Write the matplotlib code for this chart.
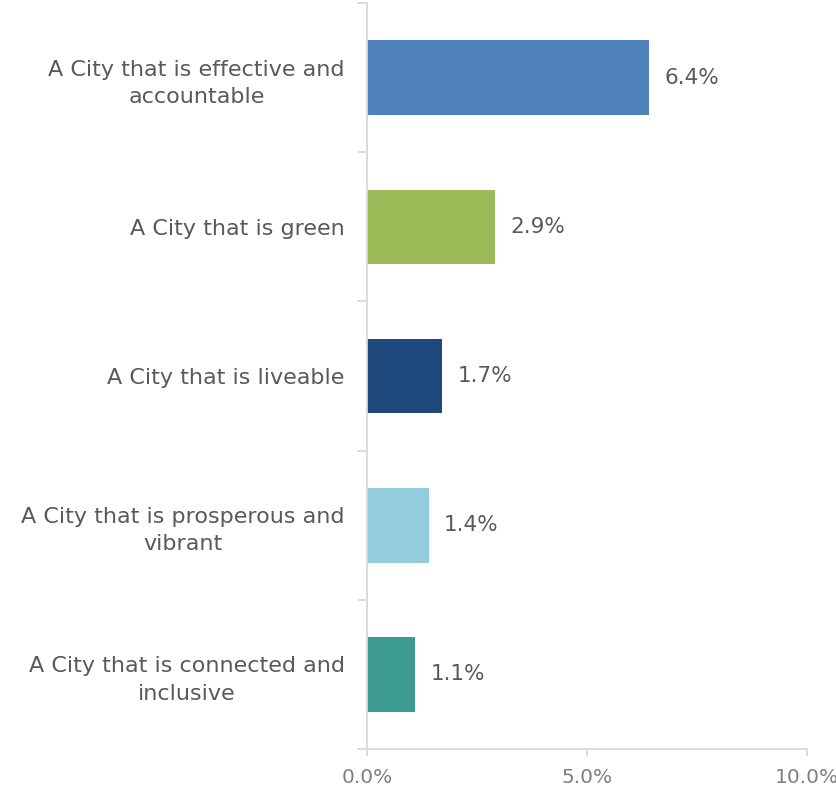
import matplotlib
matplotlib.use('Agg')
import matplotlib.pyplot as plt

categories = [
    'A City that is effective and\naccountable',
    'A City that is green',
    'A City that is liveable',
    'A City that is prosperous and\nvibrant',
    'A City that is connected and\ninclusive',
]
values = [6.4, 2.9, 1.7, 1.4, 1.1]
colors = ['#4F81BD', '#9BBB59', '#1F497D', '#93CDDD', '#3C9A8E']
xticks = [0, 5, 10]
xtick_labels = ['0.0%', '5.0%', '10.0%']

plt.rcParams['font.family'] = ['DejaVu Sans']

fig = plt.figure(figsize=(8.37, 7.93), dpi=100)
ax = fig.add_axes([367 / 837, 44 / 793, 440 / 837, 746 / 793])

n = len(categories)
ypos = list(range(n))
ax.barh(ypos, values, height=0.5, color=colors)
ax.set_ylim(n - 0.5, -0.5)
ax.set_xlim(0, 10)

for y, v in zip(ypos, values):
    ax.text(v + 0.35, y, f'{v:.1f}%', va='center', ha='left',
            fontsize=15.5, color='#595959')

ax.set_yticks(ypos)
ax.set_yticklabels(categories, fontsize=16, color='#595959', linespacing=1.45)
for lab in ax.get_yticklabels():
    lab.set_multialignment('center')
ax.set_yticks([i - 0.5 for i in range(n + 1)], minor=True)
ax.tick_params(axis='y', which='major', length=0, pad=16)
ax.tick_params(axis='y', which='minor', length=7, color='#D9D9D9', width=1.3)

ax.set_xticks(xticks)
ax.set_xticklabels(xtick_labels, fontsize=14.5, color='#808080')
ax.tick_params(axis='x', length=5, color='#D9D9D9', width=1.3, pad=9)

for side in ['top', 'right']:
    ax.spines[side].set_visible(False)
for side in ['left', 'bottom']:
    ax.spines[side].set_color('#D9D9D9')
    ax.spines[side].set_linewidth(1.3)

fig.savefig('out.png', dpi=100)
